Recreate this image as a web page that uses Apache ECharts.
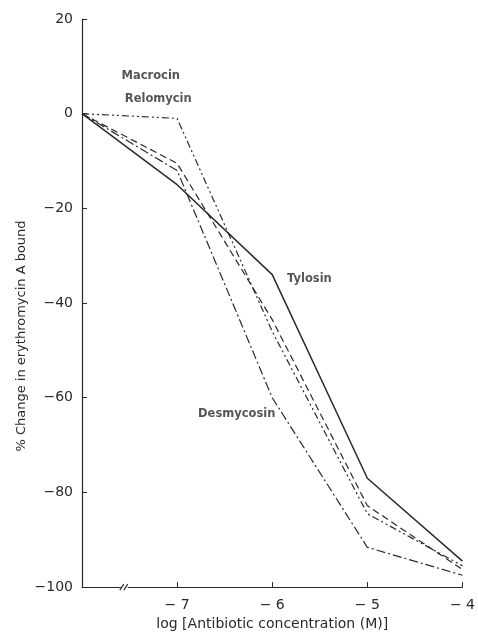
<!DOCTYPE html>
<html><head><meta charset="utf-8">
<script src="https://cdn.jsdelivr.net/npm/echarts@6/dist/echarts.min.js"></script>
<style>html,body{margin:0;padding:0;background:#fff}#c{width:478px;height:636px}</style>
</head><body><div id="c"></div>
<script>
const xValues = [-8, -7, -6, -5, -4];
const tylosin = [0, -15, -34, -77, -94.5];
const macrocin = [0, -1, -46, -84.5, -95.5];
const relomycin = [0, -10.5, -43.5, -82.8, -96.3];
const desmycosin = [0, -12, -60, -91.6, -97.5];
const xTicks = [-7, -6, -5, -4];
const yTicks = [20, 0, -20, -40, -60, -80, -100];
const labels = [
  {text: 'Macrocin', x: -7.585, y: 8},
  {text: 'Relomycin', x: -7.55, y: 3},
  {text: 'Tylosin', x: -5.845, y: -35},
  {text: 'Desmycosin', x: -6.78, y: -63.5}
];
const yTitle = '% Change in erythromycin A bound';
const xTitle = 'log [Antibiotic concentration (M)]';

const ink = '#2a2a2a';
const chart = echarts.init(document.getElementById('c'));
function mk(name, vals, type, w) {
  return {name, type: 'line', data: xValues.map((x, i) => [x, vals[i]]), symbol: 'none',
    lineStyle: {color: ink, width: w, type: type}, z: 3};
}
chart.setOption({
  animation: false,
  backgroundColor: '#fff',
  grid: {left: 82, right: 10, top: 19, bottom: 44},
  xAxis: {
    type: 'value', min: -8, max: -4, interval: 1,
    name: xTitle, nameLocation: 'middle', nameGap: 28,
    nameTextStyle: {color: ink, fontSize: 14, fontFamily: 'DejaVu Sans', letterSpacing: 0.7},
    axisLine: {onZero: false, lineStyle: {color: ink, width: 1.2}},
    axisTick: {inside: true, length: 5, lineStyle: {color: ink}, customValues: xTicks},
    axisLabel: {color: ink, fontSize: 14, fontFamily: 'DejaVu Sans', margin: 11, customValues: xTicks,
      formatter: v => (v < 0 ? '\u2212 ' + Math.abs(v) : '' + v)},
    splitLine: {show: false}
  },
  yAxis: {
    type: 'value', min: -100, max: 20, interval: 20,
    axisLine: {onZero: false, lineStyle: {color: ink, width: 1.2}},
    axisTick: {inside: true, length: 5, lineStyle: {color: ink}},
    axisLabel: {color: ink, fontSize: 14, fontFamily: 'DejaVu Sans', margin: 9,
      formatter: v => (v < 0 ? '\u2212' + Math.abs(v) : '' + v)},
    splitLine: {show: false}
  },
  series: [
    mk('Tylosin', tylosin, 'solid', 1.5),
    mk('Macrocin', macrocin, [7, 3, 2, 3, 2, 3], 1.2),
    mk('Relomycin', relomycin, [7, 4], 1.2),
    mk('Desmycosin', desmycosin, [9, 3, 2, 3], 1.2),
    {type: 'scatter', symbolSize: 0, silent: true,
      data: labels.map(l => ({value: [l.x, l.y], name: l.text})),
      label: {show: true, formatter: p => p.name, position: 'right', distance: 0,
        color: ink, fontSize: 11.5, fontFamily: 'DejaVu Sans', fontWeight: 'bold'}}
  ]
});
const p = chart.convertToPixel({gridIndex: 0}, [-7.55, -100]);
chart.setOption({graphic: [
  {type: 'rect', shape: {x: p[0] - 4, y: p[1] - 3, width: 7, height: 6}, style: {fill: '#fff'}, z: 10},
  {type: 'line', shape: {x1: p[0] - 5, y1: p[1] + 3, x2: p[0] - 1, y2: p[1] - 3}, style: {stroke: ink, lineWidth: 1.2}, z: 11},
  {type: 'line', shape: {x1: p[0] - 1, y1: p[1] + 3, x2: p[0] + 3, y2: p[1] - 3}, style: {stroke: ink, lineWidth: 1.2}, z: 11},
  {type: 'text', x: 22, y: 336, rotation: Math.PI / 2,
    style: {text: yTitle, fill: ink, fontSize: 13, fontFamily: 'DejaVu Sans', letterSpacing: 0.5,
      align: 'center', verticalAlign: 'middle'}}
]});
</script></body></html>
